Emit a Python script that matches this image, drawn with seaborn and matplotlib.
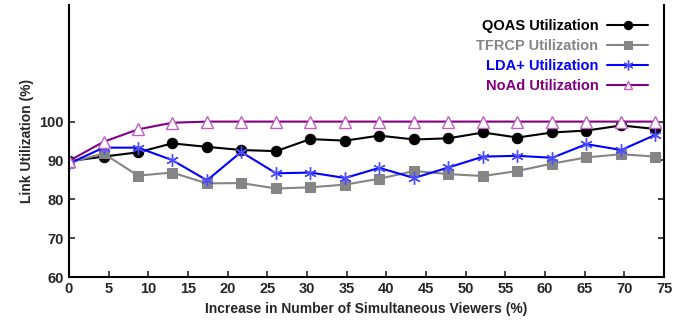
import matplotlib
matplotlib.use("Agg")
import matplotlib.pyplot as plt
import seaborn as sns
import pandas as pd

viewers = [0, 4.35, 8.7, 13.0, 17.4, 21.7, 26.1, 30.4, 34.8, 39.1, 43.5, 47.8,
           52.2, 56.5, 60.9, 65.2, 69.6, 73.9]
qoas = [89.8, 91.0, 92.1, 94.4, 93.5, 92.7, 92.4, 95.5, 95.1, 96.4, 95.4, 95.7,
        97.2, 95.9, 97.2, 97.7, 99.0, 98.1]
tfrcp = [89.4, 91.8, 86.1, 86.9, 84.1, 84.2, 82.8, 83.1, 83.8, 85.3, 87.3, 86.5,
         86.0, 87.3, 89.2, 90.8, 91.6, 91.0]
lda = [89.2, 93.3, 93.3, 90.1, 84.9, 92.2, 86.7, 86.9, 85.5, 88.1, 85.5, 88.2,
       91.0, 91.2, 90.7, 94.2, 92.7, 96.6]
noad = [89.9, 94.8, 98.0, 99.7, 100, 100, 100, 100, 100, 100, 100, 100,
        100, 100, 100, 100, 100, 100]

series = {
    "QOAS Utilization": qoas,
    "TFRCP Utilization": tfrcp,
    "LDA+ Utilization": lda,
    "NoAd Utilization": noad,
}
df = pd.DataFrame({"x": viewers, **series})

sns.set_style("white")
plt.rcParams["font.family"] = ["Liberation Sans", "DejaVu Sans"]
plt.rcParams["font.weight"] = "bold"

fig = plt.figure(figsize=(6.94, 3.28), dpi=100)
ax = fig.add_axes([0.0994, 0.155, 0.8576, 0.83])

styles = {
    "QOAS Utilization": dict(color="black", marker="o", markersize=7.5,
                             markerfacecolor="black", markeredgecolor="black"),
    "TFRCP Utilization": dict(color="#858585", marker="s", markersize=7,
                              markerfacecolor="#858585", markeredgecolor="#858585"),
    "LDA+ Utilization": dict(color="#0000ff", marker=(6, 2, 0), markersize=9,
                             markeredgecolor="#4d4dff", markeredgewidth=1.0),
    "NoAd Utilization": dict(color="#800080", marker="^", markersize=8,
                             markerfacecolor="white", markeredgecolor="#c060c0",
                             markeredgewidth=1.0),
}
for name, st in styles.items():
    sns.lineplot(data=df, x="x", y=name, ax=ax, label=name, linewidth=1.5, **st)

ax.set_xlim(0, 75)
ax.set_ylim(60, 130)
ax.set_xticks(range(0, 76, 5))
ax.set_yticks([60, 70, 80, 90, 100])
ax.tick_params(direction="in", length=4, width=1.2, labelsize=10.5,
               right=True, bottom=True, left=True)
for lab in ax.get_xticklabels() + ax.get_yticklabels():
    lab.set_fontweight("bold")
ax.spines["top"].set_visible(False)
for s in ["left", "bottom", "right"]:
    ax.spines[s].set_linewidth(1.5)
    ax.spines[s].set_color("black")

ax.set_xlabel("Increase in Number of Simultaneous Viewers (%)", fontsize=10,
              fontweight="bold")
ax.set_ylabel("Link Utilization (%)", fontsize=10, fontweight="bold")

leg = ax.legend(loc="upper right", bbox_to_anchor=(0.995, 0.995), frameon=False,
                markerfirst=False, fontsize=10.5, handlelength=2.8,
                labelspacing=0.4, handletextpad=0.6, markerscale=0.8)
for text, st in zip(leg.get_texts(), styles.values()):
    text.set_color(st["color"])
    text.set_fontweight("bold")

fig.savefig("out.png", dpi=100)
